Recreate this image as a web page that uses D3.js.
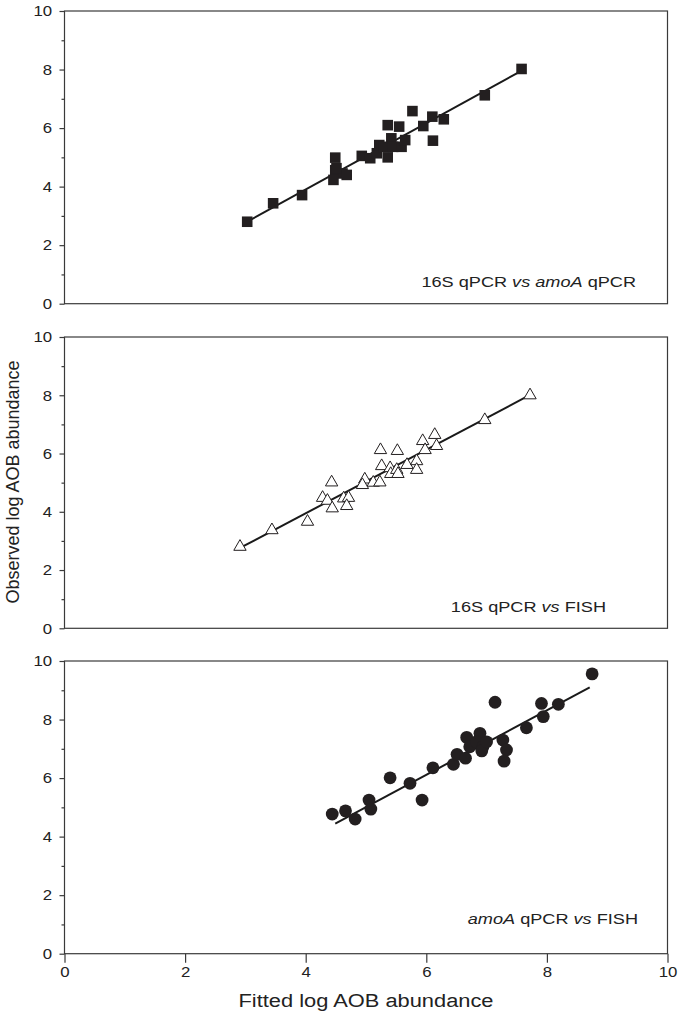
<!DOCTYPE html>
<html><head><meta charset="utf-8">
<script src="https://cdn.jsdelivr.net/npm/d3@7"></script>
<style>
html,body{margin:0;padding:0;background:#fff;}
svg{display:block;font-family:"Liberation Sans",Arial,sans-serif;}
</style></head>
<body><svg id="chart" width="678" height="1023"></svg>
<script>
// Panel 1: 16S qPCR vs amoA qPCR (filled squares)
const p1x = [3.03,3.46,3.94,4.49,4.49,4.61,4.46,4.68,4.51,4.93,5.07,5.18,5.22,5.36,5.36,5.29,5.42,5.45,5.55,5.59,5.65,5.77,5.95,6.10,6.11,6.29,6.97,7.58];
const p1y = [2.80,3.43,3.71,4.99,4.56,4.45,4.23,4.40,4.63,5.05,4.97,5.14,5.42,5.00,6.10,5.36,5.65,5.36,6.05,5.36,5.59,6.58,6.07,6.39,5.57,6.30,7.12,8.02];
const fit1 = {slope:1.133, intercept:-0.63, x0:3.03, x1:7.6};
// Panel 2: 16S qPCR vs FISH (open triangles)
const p2x = [2.91,3.44,4.03,4.43,4.28,4.36,4.44,4.63,4.71,4.68,4.98,4.94,5.12,5.23,5.24,5.26,5.40,5.41,5.52,5.51,5.53,5.68,5.84,5.84,5.94,5.98,6.14,6.17,6.97,7.72];
const p2y = [2.80,3.37,3.66,5.01,4.48,4.38,4.12,4.46,4.48,4.20,5.11,4.92,5.00,5.01,6.12,5.57,5.50,5.30,6.09,5.44,5.30,5.61,5.74,5.44,6.43,6.12,6.64,6.26,7.15,8.00];
const fit2 = {slope:1.092, intercept:-0.42, x0:2.91, x1:7.72};
// Panel 3: amoA qPCR vs FISH (filled circles)
const p3x = [4.44,4.66,4.82,5.05,5.08,5.40,5.73,5.93,6.11,6.45,6.51,6.65,6.67,6.72,6.89,6.83,6.94,6.92,7.00,7.14,7.27,7.33,7.29,7.66,7.91,7.94,8.19,8.75];
const p3y = [4.77,4.88,4.60,5.25,4.94,6.01,5.82,5.25,6.35,6.47,6.81,6.68,7.39,7.07,7.53,7.24,7.07,6.93,7.24,8.59,7.30,6.96,6.58,7.72,8.55,8.10,8.52,9.56];
const fit3 = {slope:1.102, intercept:-0.50, x0:4.49, x1:8.71};

const majorTicks = [0,2,4,6,8,10];
const minorTicks = [1,3,5,7,9];
const panelLabels = [
  [{t:"16S qPCR ",i:false},{t:"vs",i:true},{t:" ",i:false},{t:"amoA",i:true},{t:" qPCR",i:false}],
  [{t:"16S qPCR ",i:false},{t:"vs",i:true},{t:" FISH",i:false}],
  [{t:"amoA",i:true},{t:" qPCR ",i:false},{t:"vs",i:true},{t:" FISH",i:false}]
];

const svg = d3.select("#chart");
const left = 64.5, right = 667.5;
const panels = [
  {top:11, bottom:303.7, xs:p1x, ys:p1y, fit:fit1, marker:"square", labelX:636, labelY:287},
  {top:337, bottom:628.3, xs:p2x, ys:p2y, fit:fit2, marker:"triangle", labelX:606, labelY:612},
  {top:661, bottom:953.7, xs:p3x, ys:p3y, fit:fit3, marker:"circle", labelX:638, labelY:924}
];
const x = d3.scaleLinear().domain([0,10]).range([left,right]);
const axisColor = "#3a3a3a";
const markColor = "#231f20";
const fontFam = "Liberation Sans, Arial, sans-serif";

panels.forEach((p, idx) => {
  const y = d3.scaleLinear().domain([0,10]).range([p.bottom,p.top]);
  const g = svg.append("g");
  g.append("rect").attr("x",left).attr("y",p.top).attr("width",right-left).attr("height",p.bottom-p.top)
    .attr("fill","none").attr("stroke",axisColor).attr("stroke-width",1.2);
  const ya = g.append("g").attr("transform",`translate(${left},0)`)
    .call(d3.axisLeft(y).tickValues(majorTicks).tickSize(5).tickPadding(6).tickFormat(d3.format("d")));
  ya.select(".domain").remove();
  ya.attr("font-size",15).attr("font-family",fontFam);
  ya.selectAll("line").attr("stroke",axisColor).attr("stroke-width",1.2);
  ya.selectAll("text").attr("fill","#222").attr("transform","scale(1.12,1)");
  const ym = g.append("g").attr("transform",`translate(${left},0)`)
    .call(d3.axisLeft(y).tickValues(minorTicks).tickSize(3).tickFormat(""));
  ym.select(".domain").remove();
  ym.selectAll("line").attr("stroke",axisColor).attr("stroke-width",1.2);
  if (idx === 2) {
    const xa = g.append("g").attr("transform",`translate(0,${p.bottom})`)
      .call(d3.axisBottom(x).tickValues(majorTicks).tickSize(9).tickPadding(4).tickFormat(d3.format("d")));
    xa.select(".domain").remove();
    xa.attr("font-size",15).attr("font-family",fontFam);
    xa.selectAll("line").attr("stroke",axisColor).attr("stroke-width",1.2);
    xa.selectAll("text").attr("fill","#222").attr("transform","scale(1.12,1)");
  }
  g.append("line")
    .attr("x1",x(p.fit.x0)).attr("y1",y(p.fit.slope*p.fit.x0+p.fit.intercept))
    .attr("x2",x(p.fit.x1)).attr("y2",y(p.fit.slope*p.fit.x1+p.fit.intercept))
    .attr("stroke","#1a1a1a").attr("stroke-width",2);
  const data = p.xs.map((v,i)=>({x:v,y:p.ys[i]}));
  if (p.marker === "circle") {
    g.selectAll("circle.pt").data(data).join("circle").attr("class","pt")
      .attr("cx",d=>x(d.x)).attr("cy",d=>y(d.y)).attr("r",6.4).attr("fill",markColor);
  } else if (p.marker === "square") {
    const sym = d3.symbol().type(d3.symbolSquare).size(112);
    g.selectAll("path.pt").data(data).join("path").attr("class","pt")
      .attr("d",sym).attr("transform",d=>`translate(${x(d.x)},${y(d.y)})`).attr("fill",markColor);
  } else {
    const sym = d3.symbol().type(d3.symbolTriangle).size(66);
    g.selectAll("path.pt").data(data).join("path").attr("class","pt")
      .attr("d",sym).attr("transform",d=>`translate(${x(d.x)},${y(d.y)})`)
      .attr("fill","#fff").attr("stroke",markColor).attr("stroke-width",1);
  }
  const t = g.append("text").attr("transform",`translate(${p.labelX},${p.labelY}) scale(1.17,1)`)
    .attr("text-anchor","end").attr("font-size",15.5).attr("fill","#222");
  panelLabels[idx].forEach(s => t.append("tspan").text(s.t).attr("font-style", s.i ? "italic" : "normal"));
});

svg.append("text").attr("transform","translate(19,482) rotate(-90)").attr("text-anchor","middle")
  .attr("font-size",18).attr("fill","#222").text("Observed log AOB abundance");
svg.append("text").attr("transform",`translate(${x(5)},1007) scale(1.15,1)`).attr("text-anchor","middle")
  .attr("font-size",19).attr("fill","#222").text("Fitted log AOB abundance");
</script></body></html>
